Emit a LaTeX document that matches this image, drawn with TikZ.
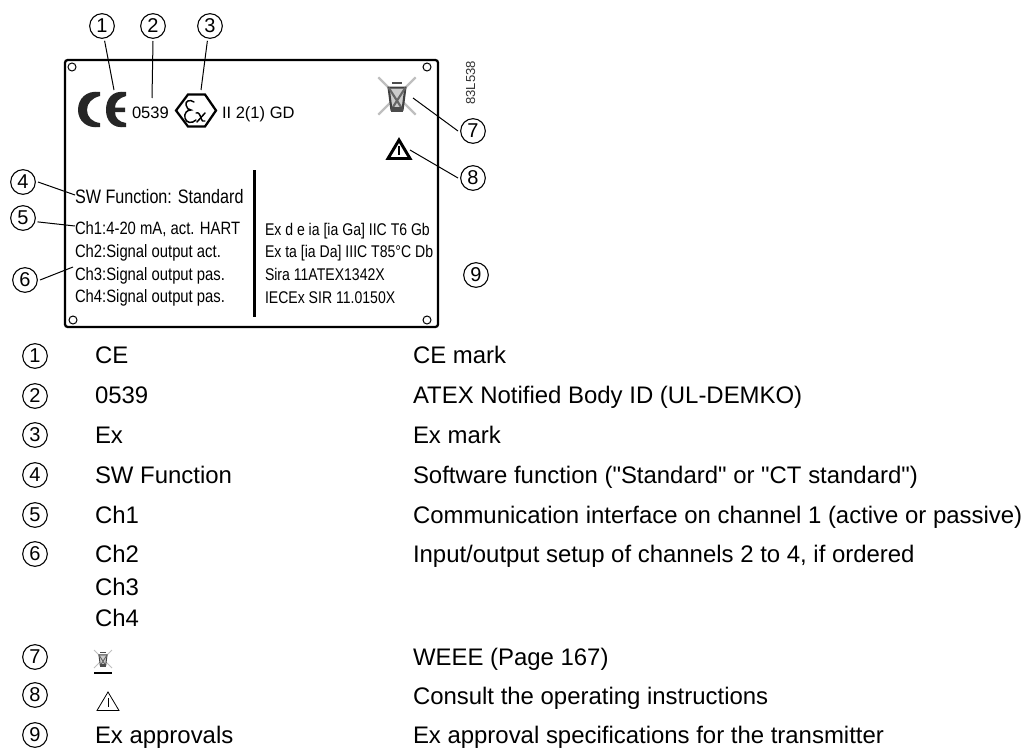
\documentclass[tikz,border=0pt]{standalone}
\usepackage{fontspec}
\setmainfont{Liberation Sans}
\newfontface\narrowface[FakeStretch=0.83]{Liberation Sans}
\newfontface\plainface{Liberation Sans}
\newcommand\strq{{\plainface"}}
\begin{document}
\begin{tikzpicture}[x=0.75pt,y=-0.75pt,
  txt/.style={anchor=base west,inner sep=0pt,outer sep=0pt,font=\fontsize{17.95pt}{20pt}\selectfont},
  labbig/.style={anchor=base west,inner sep=0pt,outer sep=0pt,font=\narrowface\fontsize{14.6pt}{17pt}\selectfont},
  lab/.style={anchor=base west,inner sep=0pt,outer sep=0pt,font=\narrowface\fontsize{13.4pt}{17pt}\selectfont},
  labex/.style={anchor=base west,inner sep=0pt,outer sep=0pt,font=\narrowface\fontsize{12.7pt}{17pt}\selectfont},
  labtop/.style={anchor=base west,inner sep=0pt,outer sep=0pt,font=\fontsize{12.4pt}{15pt}\selectfont},
  num/.style={circle,draw,line width=0.8pt,minimum size=18.5pt,inner sep=0pt,outer sep=2pt,font=\fontsize{15pt}{16pt}\selectfont},
  lead/.style={line width=0.75pt},
  hole/.style={draw,line width=0.75pt,fill=white},
  plate/.style={draw,line width=1.7pt,rounded corners=2pt},
  weeeicon/.pic={
    \draw[line width=#1,gray!50] (-1,-1) -- (1,1) (1,-1) -- (-1,1);
    \draw[line width=#1,black!75,fill=black!20] (-.45,-.45) -- (.45,-.45) -- (.3,.72) -- (-.3,.72) -- cycle;
    \draw[line width=#1,black!70] (-.28,-.7) -- (.28,-.7);
    \draw[line width=#1,black!60] (-.45,-.45) -- (.3,.72) (.45,-.45) -- (-.3,.72);
    \fill[black!70] (-.3,.6) rectangle (.3,.85);
  },
  warnicon/.pic={
    \draw[line width=#1,line join=miter] (0,-1) -- (1,.85) -- (-1,.85) -- cycle;
    \draw[line width=#1] (0,-.4) -- (0,.5);
  },
]
\useasboundingbox (0,0) rectangle (1024,749);
% plate
\draw[plate] (65,60) rectangle (438,327);
\fill (252.5,170) rectangle (256,317);
\foreach \hx/\hy in {72/67,427/67,73/320,427/320}
  \draw[hole] (\hx,\hy) circle (4);
% CE mark
\fill[black!85] (100,92) .. controls (86,90) and (78,99) .. (78,110) .. controls (78,120) and (86,129) .. (100,127) -- (100,123) .. controls (92,122) and (87,117) .. (87,110) .. controls (87,103) and (92,98) .. (100,96) -- cycle;
\fill[black!85] (126,92) .. controls (112,90) and (106,99) .. (106,110) .. controls (106,120) and (112,129) .. (126,127) -- (126,123) .. controls (119,122) and (115,118) .. (115,112) -- (125,112) -- (125,107.5) -- (115,107.5) .. controls (115,102) and (119,98) .. (126,96) -- cycle;
\coordinate (cept) at (114,90);
\node[labtop] (nb) at (132,118) {0539};
\coordinate (nbpt) at (152,98);
% Ex hexagon
\draw[line width=1.7pt,line join=miter] (176,110.5) -- (188,94.5) -- (205,94.5) -- (216,110.5) -- (205,126.5) -- (188,126.5) -- cycle;
\draw[line width=1.1pt,line cap=round] (194,102) .. controls (190,99) and (185,101) .. (186,105) .. controls (186,108) and (189,110) .. (191,110) .. controls (187,110) and (184,113) .. (185,118) .. controls (186,123) and (192,124) .. (196,120);
\draw[line width=1.1pt,line cap=round] (196,113) .. controls (199,112) and (200,115) .. (201,118) .. controls (202,121) and (203,122) .. (205,121);
\draw[line width=1.1pt,line cap=round] (205,113) -- (197,122);
\coordinate (expt) at (201,90);
\node[labtop] (cat) at (222,118) {II 2(1) GD};
% code
\node[font=\fontsize{9.8pt}{10pt}\selectfont,rotate=90,anchor=base west,inner sep=0pt,text=black!80] (code) at (475,105) {83L538};
% icons
\begin{scope}[shift={(397,96)},x=14pt,y=-14pt]
\pic {weeeicon=1.6pt};
\end{scope}
\begin{scope}[shift={(399,150)},x=8.25pt,y=-7.5pt]
\pic {warnicon=2.2pt};
\end{scope}
\coordinate (weeept) at (413,98);
\coordinate (warnpt) at (410,150);
% labels
\node[labbig] (sw) at (75,203) {SW Function: Standard};
\node[lab] (ch1) at (75,234) {Ch1:4-20 mA, act. HART};
\node[lab] (ch2) at (75,257) {Ch2:Signal output act.};
\node[lab] (ch3) at (75,280) {Ch3:Signal output pas.};
\node[lab] (ch4) at (75,302) {Ch4:Signal output pas.};
\node[labex] (ex1) at (265,235) {Ex d e ia [ia Ga] IIC T6 Gb};
\node[labex] (ex2) at (265,257) {Ex ta [ia Da] IIIC T85°C Db};
\node[labex] (ex3) at (265,280) {Sira 11ATEX1342X};
\node[labex] (ex4) at (265,303) {IECEx SIR 11.0150X};
\coordinate (swpt) at (75,195);
\coordinate (chapt) at (75,226);
\coordinate (chbpt) at (73,267);
% callouts
\node[num] (c1) at (102,26) {1};
\node[num] (c2) at (153,26) {2};
\node[num] (c3) at (210,26) {3};
\node[num] (c4) at (23,182) {4};
\node[num] (c5) at (23,218) {5};
\node[num] (c6) at (25,280) {6};
\node[num] (c7) at (473,131) {7};
\node[num] (c8) at (473,178) {8};
\node[num] (c9) at (476,275) {9};
\draw[lead] (c1.-80) -- (cept);
\draw[lead] (c2.south) -- (nbpt);
\draw[lead] (c3.-100) -- (expt);
\draw[lead] (c4.east) -- (swpt);
\draw[lead] (c5.-15) -- (chapt);
\draw[lead] (c6.east) -- (chbpt);
\draw[lead] (c7.west) -- (weeept);
\draw[lead] (c8.west) -- (warnpt);
% table
\foreach \tn/\ty in {1/356,2/396,3/435,4/475,5/515,6/554,7/657,8/695,9/735}
  \node[num] (r\tn) at (35,\ty) {\tn};
\node[txt] (a1) at (95,363.5) {CE};
\node[txt] (a2) at (95,403.5) {0539};
\node[txt] (a3) at (95,443) {Ex};
\node[txt] (a4) at (95,483) {SW Function};
\node[txt] (a5) at (95,523) {Ch1};
\node[txt] (a6) at (95,562) {Ch2};
\node[txt] (a6b) at (95,595) {Ch3};
\node[txt] (a6c) at (95,626) {Ch4};
\node[txt] (a9) at (95,743) {Ex approvals};
\begin{scope}[shift={(103,659)},x=6.75pt,y=-6.75pt]
\pic {weeeicon=0.7pt};
\end{scope}
\draw[line width=1pt] (94,673) -- (112,673);
\begin{scope}[shift={(108,702)},x=8.25pt,y=-7.5pt]
\pic {warnicon=0.6pt};
\end{scope}
\node[txt] (d1) at (413,363.5) {CE mark};
\node[txt] (d2) at (413,403.5) {ATEX Notified Body ID (UL-DEMKO)};
\node[txt] (d3) at (413,443) {Ex mark};
\node[txt] (d4) at (413,483) {Software function (\strq Standard\strq{} or \strq CT standard\strq)};
\node[txt] (d5) at (413,523) {Communication interface on channel 1 (active or passive)};
\node[txt] (d6) at (413,562) {Input/output setup of channels 2 to 4, if ordered};
\node[txt] (d7) at (413,665) {WEEE (Page 167)};
\node[txt] (d8) at (413,704) {Consult the operating instructions};
\node[txt] (d9) at (413,743) {Ex approval specifications for the transmitter};
\end{tikzpicture}
\end{document}
